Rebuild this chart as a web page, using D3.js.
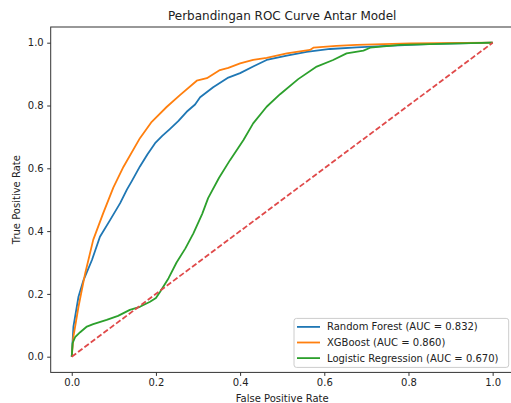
<!DOCTYPE html>
<html>
<head>
<meta charset="utf-8">
<script src="https://cdn.jsdelivr.net/npm/d3@7"></script>
<style>
  body { margin: 0; background: #fff; }
  svg { display: block; font-family: 'DejaVu Sans', sans-serif; }
</style>
</head>
<body>
<div id="graph"></div>
<script>
// Data
const models = ['Random Forest', 'XGBoost', 'Logistic Regression']
const aucs = ['0.832', '0.860', '0.670']
const colors = ['#1f77b4', '#ff7f0e', '#2ca02c']

const rfFpr = [0, 0.004, 0.016, 0.028, 0.048, 0.067, 0.091, 0.115, 0.131, 0.143, 0.162, 0.180, 0.198, 0.215, 0.233, 0.253, 0.273, 0.293, 0.305, 0.336, 0.372, 0.400, 0.431, 0.463, 0.511, 0.558, 0.614, 0.677, 0.750, 0.860, 1]
const rfTpr = [0, 0.096, 0.191, 0.244, 0.308, 0.382, 0.435, 0.489, 0.532, 0.560, 0.606, 0.645, 0.680, 0.703, 0.725, 0.750, 0.780, 0.803, 0.826, 0.858, 0.889, 0.903, 0.924, 0.945, 0.959, 0.971, 0.980, 0.985, 0.990, 0.996, 1]

const xgbFpr = [0, 0.004, 0.016, 0.032, 0.051, 0.075, 0.099, 0.123, 0.162, 0.190, 0.226, 0.257, 0.297, 0.321, 0.352, 0.372, 0.400, 0.431, 0.463, 0.511, 0.566, 0.574, 0.629, 0.677, 0.804, 1]
const xgbTpr = [0, 0.064, 0.159, 0.266, 0.372, 0.458, 0.539, 0.605, 0.696, 0.748, 0.796, 0.833, 0.879, 0.887, 0.913, 0.920, 0.934, 0.945, 0.952, 0.966, 0.977, 0.984, 0.990, 0.993, 0.998, 1]

const lrFpr = [0, 0.002, 0.008, 0.020, 0.036, 0.051, 0.083, 0.110, 0.138, 0.162, 0.186, 0.200, 0.210, 0.230, 0.249, 0.270, 0.289, 0.310, 0.324, 0.350, 0.376, 0.408, 0.431, 0.463, 0.495, 0.538, 0.582, 0.621, 0.653, 0.693, 0.709, 0.780, 0.900, 1]
const lrTpr = [0, 0.043, 0.062, 0.078, 0.096, 0.104, 0.117, 0.130, 0.149, 0.159, 0.175, 0.187, 0.207, 0.250, 0.300, 0.345, 0.393, 0.455, 0.505, 0.570, 0.626, 0.690, 0.743, 0.796, 0.836, 0.884, 0.924, 0.945, 0.966, 0.975, 0.984, 0.993, 0.997, 1]

const ticks = [0, 0.2, 0.4, 0.6, 0.8, 1.0]

const curves = [
  { fpr: rfFpr, tpr: rfTpr },
  { fpr: xgbFpr, tpr: xgbTpr },
  { fpr: lrFpr, tpr: lrTpr }
]

// Layout
const total_width = 511
const total_height = 403
const margins = { top: 27, left: 50.7, right: -2.7, bottom: 30.6 }
const width = total_width - margins.left - margins.right
const height = total_height - margins.top - margins.bottom

const svg = d3.select('#graph').append('svg')
  .attr('width', total_width)
  .attr('height', total_height)

const g = svg.append('g')
  .attr('transform', `translate(${margins.left}, ${margins.top})`)

const x = d3.scaleLinear().domain([-0.05, 1.05]).range([0, width])
const y = d3.scaleLinear().domain([-0.05, 1.05]).range([height, 0])

const lineGen = d3.line()
  .x(d => x(d[0]))
  .y(d => y(d[1]))

// curves
curves.forEach((c, i) => {
  g.append('path')
    .attr('d', lineGen(c.fpr.map((f, j) => [f, c.tpr[j]])))
    .attr('fill', 'none')
    .attr('stroke', colors[i])
    .attr('stroke-width', 1.8)
    .attr('stroke-linejoin', 'round')
})

// diagonal reference
g.append('path')
  .attr('d', lineGen([[0, 0], [1, 1]]))
  .attr('fill', 'none')
  .attr('stroke', '#e04a4a')
  .attr('stroke-width', 1.8)
  .attr('stroke-dasharray', '5.5,2.4')

// frame
g.append('rect')
  .attr('width', width)
  .attr('height', height)
  .attr('fill', 'none')
  .attr('stroke', '#333')
  .attr('stroke-width', 1)

// axes
const xAxis = g.append('g')
  .attr('transform', `translate(0, ${height})`)
  .call(d3.axisBottom(x).tickValues(ticks).tickFormat(d3.format('.1f')).tickSize(3.5).tickPadding(3.5))
const yAxis = g.append('g')
  .call(d3.axisLeft(y).tickValues(ticks).tickFormat(d3.format('.1f')).tickSize(3.5).tickPadding(3.5))

;[xAxis, yAxis].forEach(a => {
  a.select('.domain').remove()
  a.selectAll('line').attr('stroke', '#333')
  a.selectAll('text')
    .attr('font-family', 'DejaVu Sans, sans-serif')
    .attr('font-size', 10)
    .attr('fill', '#222')
})

// labels
svg.append('text')
  .attr('x', margins.left + width / 2)
  .attr('y', 20)
  .attr('text-anchor', 'middle')
  .attr('font-size', 12)
  .attr('fill', '#222')
  .text('Perbandingan ROC Curve Antar Model')

svg.append('text')
  .attr('x', margins.left + width / 2)
  .attr('y', 402)
  .attr('text-anchor', 'middle')
  .attr('font-size', 10)
  .attr('fill', '#222')
  .text('False Positive Rate')

svg.append('text')
  .attr('transform', `translate(20, ${margins.top + height / 2}) rotate(-90)`)
  .attr('text-anchor', 'middle')
  .attr('font-size', 10)
  .attr('fill', '#222')
  .text('True Positive Rate')

// legend (lower right)
const legW = 214.7
const legH = 49
const legend = g.append('g')
  .attr('transform', `translate(${width - 5 - legW}, ${height - 5 - legH})`)
legend.append('rect')
  .attr('width', legW)
  .attr('height', legH)
  .attr('rx', 2.5)
  .attr('fill', 'rgba(255,255,255,0.8)')
  .attr('stroke', '#ccc')
  .attr('stroke-width', 1)

models.forEach((m, i) => {
  const row = legend.append('g')
    .attr('transform', `translate(0, ${8.5 + i * 15.6})`)
  row.append('line')
    .attr('x1', 3)
    .attr('x2', 26)
    .attr('stroke', colors[i])
    .attr('stroke-width', 1.8)
  row.append('text')
    .attr('x', 33)
    .attr('dy', '0.35em')
    .attr('font-size', 10)
    .attr('fill', '#222')
    .text(`${m} (AUC = ${aucs[i]})`)
})
</script>
</body>
</html>
